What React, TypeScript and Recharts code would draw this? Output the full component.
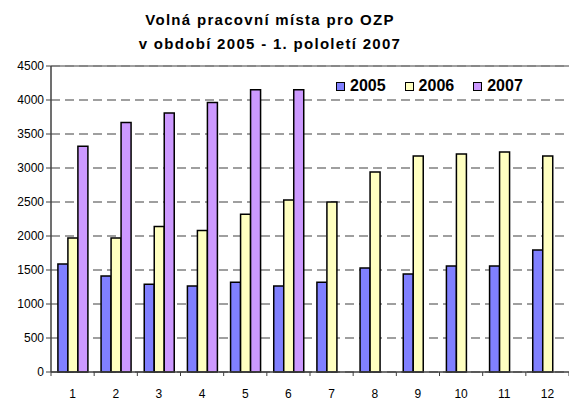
import React from 'react';
import { BarChart, Bar, XAxis, YAxis, CartesianGrid, ReferenceLine } from 'recharts';

const months = ['1', '2', '3', '4', '5', '6', '7', '8', '9', '10', '11', '12'];
const y2005 = [1590, 1410, 1290, 1265, 1320, 1265, 1320, 1530, 1440, 1560, 1560, 1795];
const y2006 = [1970, 1970, 2140, 2080, 2320, 2530, 2500, 2940, 3175, 3205, 3235, 3175];
const y2007 = [3320, 3670, 3810, 3965, 4150, 4150, null, null, null, null, null, null];
const yTicks = [0, 500, 1000, 1500, 2000, 2500, 3000, 3500, 4000, 4500];

const series = [
  { key: 'y2005', name: '2005', color: '#8080ff' },
  { key: 'y2006', name: '2006', color: '#ffffc0' },
  { key: 'y2007', name: '2007', color: '#cc99ff' },
];

const data = months.map((m, i) => ({
  month: m,
  y2005: y2005[i],
  y2006: y2006[i],
  y2007: y2007[i],
}));

const font = 'Arial, "Liberation Sans", sans-serif';

const MonthTick = (props: any) => {
  const { x, y, payload, index } = props;
  const band = 518 / months.length;
  const left = x - band / 2;
  return (
    <g>
      <line x1={left} y1={y - 8} x2={left} y2={y - 4} stroke="#404040" />
      {index === months.length - 1 && (
        <line x1={left + band} y1={y - 8} x2={left + band} y2={y - 4} stroke="#404040" />
      )}
      <text x={x} y={y + 18} textAnchor="middle" fontSize={12} fill="#000" fontFamily={font}>
        {payload.value}
      </text>
    </g>
  );
};

// legend drawn over the plot, top right
const LegendBox = () => (
  <div
    style={{
      position: 'absolute',
      left: 336,
      top: 77,
      display: 'flex',
      fontFamily: font,
      fontWeight: 'bold',
      fontSize: 16,
      lineHeight: '18px',
    }}
  >
    {series.map((s) => (
      <div key={s.key} style={{ display: 'flex', alignItems: 'center', marginRight: 19 }}>
        <span
          style={{
            display: 'inline-block',
            width: 7,
            height: 7,
            background: s.color,
            border: '1px solid #000',
            marginRight: 5,
          }}
        />
        <span>{s.name}</span>
      </div>
    ))}
  </div>
);

export default function App() {
  return (
    <div style={{ position: 'fixed', left: 0, top: 0, width: 569, height: 400, background: '#fff' }}>
      <div
        style={{
          position: 'absolute',
          left: 0,
          top: 8,
          width: 540,
          textAlign: 'center',
          fontFamily: font,
          fontWeight: 'bold',
          fontSize: 15,
          lineHeight: '24px',
          letterSpacing: 1.3,
        }}
      >
        Volná pracovní místa pro OZP
        <br />
        v období 2005 - 1. pololetí 2007
      </div>
      <BarChart
        width={569}
        height={400}
        data={data}
        margin={{ top: 66, right: 0, bottom: 0, left: 0 }}
        barCategoryGap="16%"
        barGap={0}
      >
        <CartesianGrid vertical={false} stroke="#808080" strokeWidth={1.5} strokeDasharray="9 5" />
        <ReferenceLine y={4500} stroke="#808080" strokeWidth={1.5} />
        <XAxis
          dataKey="month"
          height={28}
          tickLine={false}
          axisLine={{ stroke: '#404040', strokeWidth: 1.5 }}
          tick={<MonthTick />}
          interval={0}
        />
        <YAxis
          width={51}
          domain={[0, 4500]}
          ticks={yTicks}
          interval={0}
          tickSize={5}
          tickLine={{ stroke: '#404040' }}
          axisLine={{ stroke: '#404040', strokeWidth: 1.5 }}
          tick={{ fontSize: 12, fill: '#000', fontFamily: font }}
        />
        {series.map((s) => (
          <Bar
            key={s.key}
            dataKey={s.key}
            name={s.name}
            fill={s.color}
            stroke="#000"
            strokeWidth={1.5}
            isAnimationActive={false}
          />
        ))}
      </BarChart>
      <LegendBox />
    </div>
  );
}
